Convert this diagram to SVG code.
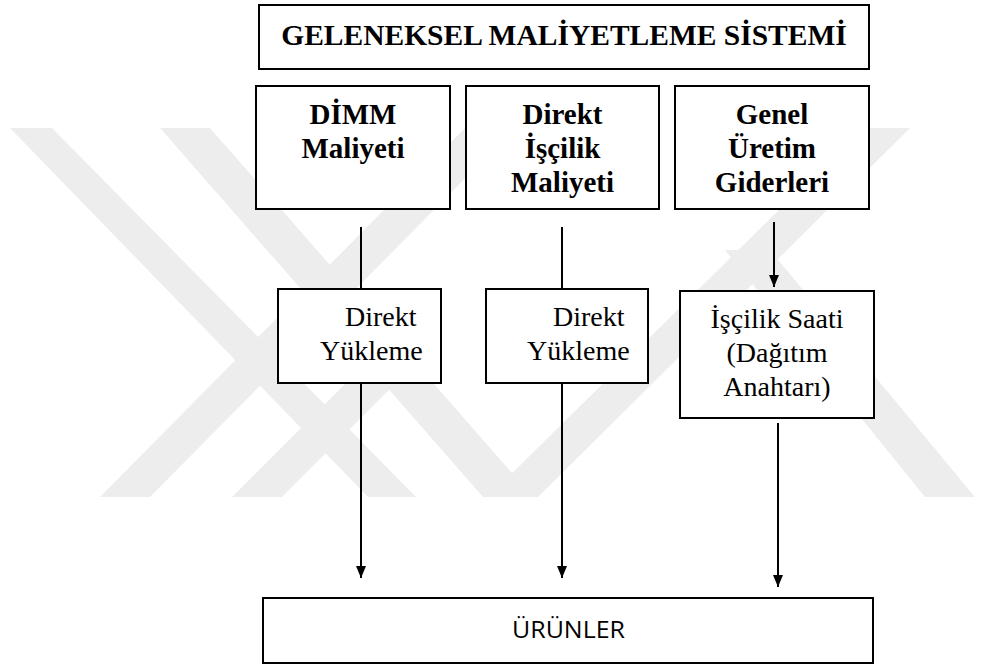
<svg xmlns="http://www.w3.org/2000/svg" width="981" height="668" viewBox="0 0 981 668">
  <defs>
    <marker id="arrow" viewBox="0 0 12 10" refX="12" refY="5" markerWidth="12" markerHeight="10" markerUnits="userSpaceOnUse" orient="auto">
      <path d="M0,0 L12,5 L0,10 z" fill="#000"/>
    </marker>
    <style>
      .box { fill: #fff; stroke: #000; stroke-width: 2; }
      .head { font-family: "Liberation Serif", "Times New Roman", serif; font-weight: bold; fill: #000; text-anchor: middle; }
      .body { font-family: "Liberation Serif", "Times New Roman", serif; font-size: 28px; fill: #000; }
      .sans { font-family: "Open Sans", "Noto Sans", sans-serif; font-size: 24px; fill: #000; }
      .wire { stroke: #000; stroke-width: 2; fill: none; }
      .mark { fill: #ededed; }
    </style>
  </defs>

  <rect width="981" height="668" fill="#fff"/>

  <!-- faint background emblem: crossing diagonal bands -->
  <g id="emblem">
    <polygon class="mark" points="10,128 52,128 416,497 368,497"/>
    <polygon class="mark" points="160,128 210,128 533,497 483,497"/>
    <polygon class="mark" points="100,497 150,497 515,128 465,128"/>
    <polygon class="mark" points="232,497 282,497 414,365 364,365"/>
    <polygon class="mark" points="488,497 538,497 910,128 862,128"/>
    <polygon class="mark" points="725,250 770,250 975,497 925,497"/>
  </g>

  <!-- top title -->
  <g id="title">
    <rect class="box" x="259" y="5" width="610" height="64"/>
    <text class="head" x="564" y="45" font-size="29.5">GELENEKSEL MALİYETLEME SİSTEMİ</text>
  </g>

  <!-- cost groups -->
  <g id="dimm">
    <rect class="box" x="256" y="86" width="194" height="123"/>
    <text class="head" font-size="29"><tspan x="353" y="124">DİMM</tspan><tspan x="353" y="158">Maliyeti</tspan></text>
  </g>
  <g id="iscilik">
    <rect class="box" x="466" y="86" width="193" height="123"/>
    <text class="head" font-size="29"><tspan x="562.5" y="124">Direkt</tspan><tspan x="562.5" y="158">İşçilik</tspan><tspan x="562.5" y="192">Maliyeti</tspan></text>
  </g>
  <g id="genel">
    <rect class="box" x="675" y="86" width="194" height="123"/>
    <text class="head" font-size="29"><tspan x="772" y="124">Genel</tspan><tspan x="772" y="158">Üretim</tspan><tspan x="772" y="192">Giderleri</tspan></text>
  </g>

  <!-- allocation steps -->
  <g id="yukleme1">
    <rect class="box" x="278" y="289" width="163" height="94"/>
    <text class="body"><tspan x="345" y="326">Direkt</tspan><tspan x="320" y="360">Yükleme</tspan></text>
  </g>
  <g id="yukleme2">
    <rect class="box" x="486" y="289" width="162" height="94"/>
    <text class="body"><tspan x="553" y="326">Direkt</tspan><tspan x="527" y="360">Yükleme</tspan></text>
  </g>
  <g id="saat">
    <rect class="box" x="680" y="291" width="194" height="127"/>
    <text class="body" text-anchor="middle" font-size="28.5"><tspan x="777" y="328">İşçilik Saati</tspan><tspan x="777" y="362">(Dağıtım</tspan><tspan x="777" y="396">Anahtarı)</tspan></text>
  </g>

  <!-- products -->
  <g id="urunler">
    <rect class="box" x="263" y="598" width="610" height="65"/>
    <text class="sans" x="512" y="638" textLength="113" lengthAdjust="spacingAndGlyphs">ÜRÜNLER</text>
  </g>

  <!-- connectors -->
  <g id="connectors">
    <line class="wire" x1="361" y1="227" x2="361" y2="289"/>
    <line class="wire" x1="361" y1="383" x2="361" y2="578" marker-end="url(#arrow)"/>
    <line class="wire" x1="562" y1="227" x2="562" y2="289"/>
    <line class="wire" x1="562" y1="383" x2="562" y2="578" marker-end="url(#arrow)"/>
    <line class="wire" x1="774" y1="222" x2="774" y2="287" marker-end="url(#arrow)"/>
    <line class="wire" x1="778" y1="423" x2="778" y2="587" marker-end="url(#arrow)"/>
  </g>
</svg>
